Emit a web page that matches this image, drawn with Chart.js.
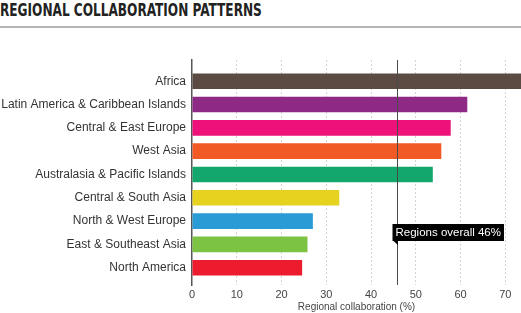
<!DOCTYPE html>
<html>
<head>
<meta charset="utf-8">
<script src="https://cdn.jsdelivr.net/npm/chart.js@4"></script>
<style>
  body { margin: 0; background: #fff; }
  #wrap { position: relative; width: 521px; height: 313px; }
  #title {
    position: absolute; left: 0; top: 1px; margin: 0;
    font: bold 18px "DejaVu Sans Condensed", "DejaVu Sans", sans-serif;
    line-height: 18px; color: #222; white-space: nowrap;
    transform-origin: 0 0;
  }
  #rule { position: absolute; left: 0; top: 26px; width: 521px; height: 0; border-top: 2px solid #b5b5b5; }
  canvas { position: absolute; left: 0; top: 0; }
</style>
</head>
<body>
<div id="wrap">
  <div id="title">REGIONAL COLLABORATION PATTERNS</div>
  <div id="rule"></div>
  <canvas id="chart" width="521" height="313"></canvas>
</div>
<script>
// Data
const regions = [
    'Africa',
    'Latin America & Caribbean Islands',
    'Central & East Europe',
    'West Asia',
    'Australasia & Pacific Islands',
    'Central & South Asia',
    'North & West Europe',
    'East & Southeast Asia',
    'North America'
];
const collaboration = [75, 61.5, 57.8, 55.7, 53.8, 32.9, 27.0, 25.8, 24.6];
const barColors = ['#5b4b42', '#8e2a86', '#ee117a', '#f15a24', '#14a76b', '#e6d21f', '#2b9bd6', '#7cc243', '#ec1c2e'];
const xTicks = [0, 10, 20, 30, 40, 50, 60, 70];
const overall = 46;
const overallLabel = 'Regions overall 46%';

const labelFont = '"Liberation Sans", Arial, sans-serif';

// squeeze the title to the width of the original condensed face
const titleEl = document.getElementById('title');
titleEl.style.transform = 'scaleX(' + (262 / titleEl.scrollWidth) + ')';

// vertical "overall" line plus its black callout
const overallLine = {
    id: 'overallLine',
    afterDatasetsDraw(chart) {
        const { ctx, chartArea, scales } = chart;
        const px = Math.round(scales.x.getPixelForValue(overall)) - 0.5;
        ctx.save();
        ctx.strokeStyle = '#4a4a4a';
        ctx.lineWidth = 1;
        ctx.beginPath();
        ctx.moveTo(px, chartArea.top);
        ctx.lineTo(px, chartArea.bottom);
        ctx.stroke();

        ctx.font = '11.5px ' + labelFont;
        const w = ctx.measureText(overallLabel).width + 6;
        const cy = scales.y.getPixelForValue(6.47);
        const h = 17;
        const left = px - 5;
        const top = Math.round(cy - h / 2);
        ctx.fillStyle = '#000';
        ctx.fillRect(left, top, w, h);
        ctx.beginPath();
        ctx.moveTo(left + 1, top + h);
        ctx.lineTo(px + 0.5, top + h);
        ctx.lineTo(px + 0.5, top + h + 4);
        ctx.closePath();
        ctx.fill();
        ctx.fillStyle = '#fff';
        ctx.textBaseline = 'middle';
        ctx.fillText(overallLabel, left + 3, top + h / 2 + 0.5);
        ctx.restore();
    }
};

new Chart(document.getElementById('chart'), {
    type: 'bar',
    data: {
        datasets: [{
            data: collaboration.map((v, i) => ({ x: v, y: i })),
            backgroundColor: barColors,
            borderWidth: 0,
            categoryPercentage: 1,
            barPercentage: 0.67
        }]
    },
    options: {
        indexAxis: 'y',
        responsive: false,
        animation: false,
        layout: { padding: { top: 60, right: 0, bottom: 0, left: 0 } },
        plugins: { legend: { display: false }, tooltip: { enabled: false } },
        scales: {
            x: {
                type: 'linear',
                min: 0,
                max: 73.5,
                afterFit(scale) { scale.height = 28; },
                afterBuildTicks(scale) {
                    scale.ticks = xTicks.map(v => ({ value: v }));
                },
                border: { display: false, dash: [2, 2] },
                grid: {
                    drawTicks: false,
                    color: ctx => ctx.tick && ctx.tick.value > 0 ? '#d2d2d2' : 'rgba(0,0,0,0)',
                    lineWidth: 1
                },
                ticks: {
                    padding: 3,
                    color: '#444',
                    font: { family: labelFont, size: 11 }
                },
                title: {
                    display: true,
                    text: 'Regional collaboration (%)',
                    color: '#444',
                    padding: { top: 0, bottom: 0 },
                    font: { family: labelFont, size: 10 }
                }
            },
            y: {
                type: 'linear',
                reverse: true,
                offset: false,
                min: -0.91,
                max: 8.74,
                afterFit(scale) { scale.width = 192; },
                afterBuildTicks(scale) {
                    scale.ticks = regions.map((r, i) => ({ value: i }));
                },
                border: { display: true, color: '#555', width: 1.5 },
                grid: { display: false, drawTicks: false },
                ticks: {
                    padding: 6,
                    autoSkip: false,
                    color: '#333',
                    callback: v => regions[v],
                    font: { family: labelFont, size: 12 }
                }
            }
        }
    },
    plugins: [overallLine]
});
</script>
</body>
</html>
